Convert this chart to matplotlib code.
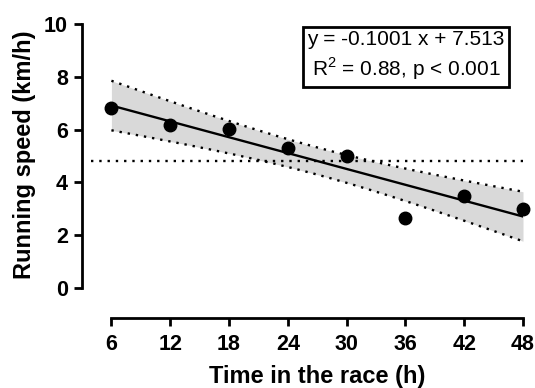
import numpy as np
import matplotlib
matplotlib.use("Agg")
import matplotlib.pyplot as plt

plt.rcParams['font.family'] = ['Liberation Sans', 'DejaVu Sans']
plt.rcParams['mathtext.fontset'] = 'custom'
plt.rcParams['mathtext.rm'] = 'Liberation Sans'

time_h = [6, 12, 18, 24, 30, 36, 42, 48]
speed = [6.81, 6.16, 6.01, 5.31, 5.00, 2.64, 3.48, 2.98]
slope = -0.1001
intercept = 7.513
mean_line = 4.80
x_ticks = [6, 12, 18, 24, 30, 36, 42, 48]
y_ticks = [0, 2, 4, 6, 8, 10]
eq_text = "y = -0.1001 x + 7.513\nR$^2$ = 0.88, p < 0.001"

x = np.array(time_h, float)
y = np.array(speed, float)
n = len(x)
pred = intercept + slope * x
s = np.sqrt(np.sum((y - pred) ** 2) / (n - 2))
sxx = np.sum((x - x.mean()) ** 2)
t = 2.447
xf = np.linspace(min(time_h), max(time_h), 200)
yf = intercept + slope * xf
se = s * np.sqrt(1 / n + (xf - x.mean()) ** 2 / sxx)
up, lo = yf + t * se, yf - t * se

W, H = 535, 388
fig = plt.figure(figsize=(W / 100, H / 100), dpi=100)
ax = fig.add_axes([82 / W, 1 - 317.7 / H, (523 - 82) / W, (317.7 - 24) / H])
ax.set_xlim(3, 48)
ax.set_ylim(-1.125, 10)

ax.fill_between(xf, lo, up, color='#d9d9d9', lw=0, zorder=1)
ax.plot(xf, up, color='black', lw=1.7, ls=(0, (1, 2.5)), zorder=2)
ax.plot(xf, lo, color='black', lw=1.7, ls=(0, (1, 2.5)), zorder=2)
ax.plot([3.9, 48], [mean_line, mean_line], color='black', lw=1.7, ls=(0, (1, 2.5)), zorder=2)
ax.plot(xf, yf, color='black', lw=1.7, zorder=3)
ax.plot(time_h, speed, 'o', color='black', ms=9, zorder=4, clip_on=False)

for sp in ['top', 'right']:
    ax.spines[sp].set_visible(False)
ax.spines['left'].set_bounds(0, 10)
ax.spines['bottom'].set_bounds(6, 48)
for sp in ['left', 'bottom']:
    ax.spines[sp].set_linewidth(2.0)
ax.set_xticks(x_ticks)
ax.set_yticks(y_ticks)
ax.tick_params(width=2.0, length=6, labelsize=15.5)
ax.tick_params(axis='x', pad=6)
ax.tick_params(axis='y', pad=4)
for lab in ax.get_xticklabels() + ax.get_yticklabels():
    lab.set_fontweight('bold')

fig.text(25 / W, 1 - 155 / H, "Running speed (km/h)", rotation=90, ha='center', va='center',
         fontsize=17, fontweight='bold')
fig.text(317 / W, 1 - 376 / H, "Time in the race (h)", ha='center', va='center',
         fontsize=17, fontweight='bold')
fig.text(406 / W, 1 - 56 / H, eq_text, ha='center', va='center', fontsize=15,
         linespacing=1.35,
         bbox=dict(boxstyle='square,pad=0.22', facecolor='white', edgecolor='black', lw=2.0))

fig.savefig('out.png', dpi=100)
